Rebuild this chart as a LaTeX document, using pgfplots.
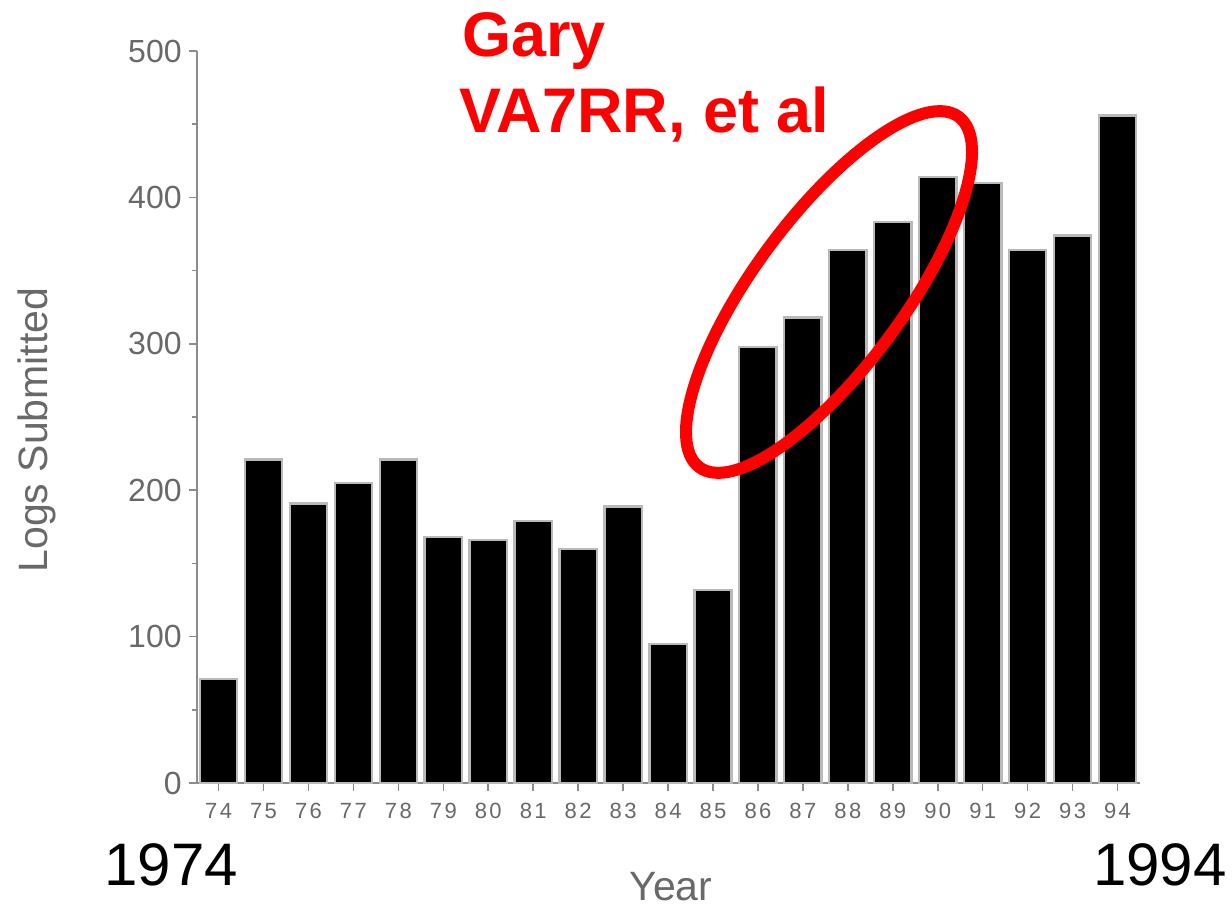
\documentclass[border=0pt]{standalone}
\usepackage{pgfplots}
\pgfplotsset{compat=1.18}
\usepackage{pgfplotstable}
\usepackage{fontspec}
\setmainfont{Liberation Sans}
\definecolor{axgray}{RGB}{140,140,140}
\definecolor{txtgray}{RGB}{105,105,105}
\definecolor{baredge}{RGB}{185,185,185}
\definecolor{annred}{RGB}{255,0,0}
\pgfplotstableread{
x val
0 71
1 221
2 191
3 205
4 221
5 168
6 166
7 179
8 160
9 189
10 95
11 132
12 298
13 318
14 364
15 383
16 414
17 410
18 364
19 374
20 456
}\logs
\begin{document}
\begin{tikzpicture}
\path[use as bounding box] (0,0) rectangle (616pt,453pt);
\begin{axis}[
  at={(98.5pt,61.5pt)}, anchor=south west,
  scale only axis, width=471.5pt, height=366pt,
  xmin=-0.48, xmax=20.5, ymin=0, ymax=500,
  axis lines=left,
  axis line style={axgray, line width=1pt, -},
  ytick={0,100,...,500}, minor ytick={50,150,...,450},
  xtick={0,...,20},
  xticklabels={7\kern1.2pt4,7\kern1.2pt5,7\kern1.2pt6,7\kern1.2pt7,7\kern1.2pt8,7\kern1.2pt9,8\kern1.2pt0,8\kern1.2pt1,8\kern1.2pt2,8\kern1.2pt3,8\kern1.2pt4,8\kern1.2pt5,8\kern1.2pt6,8\kern1.2pt7,8\kern1.2pt8,8\kern1.2pt9,9\kern1.2pt0,9\kern1.2pt1,9\kern1.2pt2,9\kern1.2pt3,9\kern1.2pt4},
  tick align=outside, major tick length=4pt, minor tick length=2.5pt,
  tick style={axgray, line width=0.8pt},
  /pgf/number format/assume math mode=true,
  yticklabel style={font=\fontsize{16}{16}\selectfont, text=txtgray, inner sep=0pt, xshift=-3.5pt},
  xticklabel style={font=\fontsize{11}{11}\selectfont, text=txtgray, inner sep=0pt, yshift=-6pt},
  clip=false,
]
\addplot[ybar, bar width=0.83, fill=black, draw=baredge, line width=1.2pt] table[x=x,y=val]{\logs};
\end{axis}
\draw[annred, line width=6pt, rotate around={53.5:(414.5pt,307pt)}] (414.5pt,307pt) ellipse (109pt and 37.5pt);
\node[anchor=base west, inner sep=0pt, text=annred, font=\fontsize{31.5}{36}\selectfont\bfseries] at (231pt,424.5pt) {Gary};
\node[anchor=base west, inner sep=0pt, text=annred, font=\fontsize{31.5}{36}\selectfont\bfseries] at (229.5pt,386.5pt) {VA7RR, et al};
\node[anchor=base west, inner sep=0pt, font=\fontsize{30}{34}\selectfont] at (52pt,10.5pt) {1974};
\node[anchor=base east, inner sep=0pt, font=\fontsize{30}{34}\selectfont] at (613.5pt,10.5pt) {1994};
\node[anchor=base, inner sep=0pt, text=txtgray, font=\fontsize{20.5}{24}\selectfont] at (335.5pt,3pt) {Year};
\node[anchor=base, inner sep=0pt, rotate=90, text=txtgray, font=\fontsize{20.5}{24}\selectfont] at (23.5pt,238pt) {Logs Submitted};
\end{tikzpicture}
\end{document}
